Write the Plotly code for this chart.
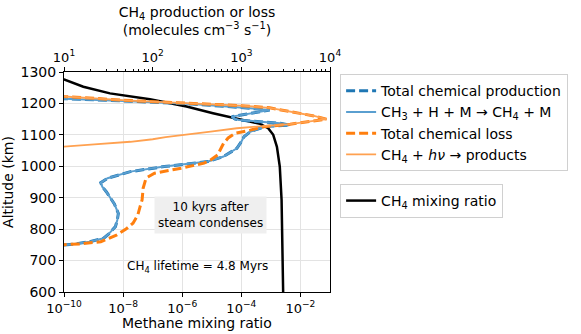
import plotly.graph_objects as go

# production / loss profiles (molecules cm^-3 s^-1) vs altitude (km)
prod_alt = [1225, 1215, 1207, 1198, 1188, 1182, 1179, 1158, 1150, 1147, 1137, 1131, 1127, 1118,
            1110, 1094, 1078, 1057, 1031, 1015, 999, 983, 962, 948, 935, 919, 903, 880, 850,
            830, 808, 785, 771, 760, 752, 745]
prod_val = [6.3, 10, 56, 280, 890, 1480, 2090, 780, 850, 950, 2750, 3550, 1900, 1510,
            1260, 1070, 1000, 890, 630, 420, 135, 56, 31, 26, 27, 30, 33, 37, 41,
            40, 38, 32, 28, 19.5, 12.6, 6.3]

loss_alt = [1228, 1222, 1209, 1201, 1193, 1186, 1169, 1160, 1150, 1142, 1134, 1126, 1115, 1105,
            1090, 1073, 1050, 1036, 1020, 1010, 994, 978, 965, 956, 930, 893, 871, 845, 819,
            800, 781, 760, 753, 750, 748]
loss_val = [6.3, 10, 56, 280, 1000, 2090, 4570, 6610, 9120, 5620, 3550, 1780, 1260, 850,
            710, 630, 575, 540, 450, 380, 210, 105, 87, 83, 78, 76, 72, 68, 60,
            50, 39, 26, 15, 10, 6.3]

photo_alt = [1228, 1222, 1209, 1201, 1193, 1186, 1169, 1160, 1150, 1142, 1134, 1128, 1121, 1110,
             1102, 1093, 1086, 1078, 1070, 1063, 1058]
photo_val = [6.3, 10, 56, 280, 1000, 2090, 4570, 6610, 9120, 6000, 3550, 1780, 890, 450,
             250, 140, 100, 56, 22, 10, 6.3]

# methane mixing ratio profile
mix_alt = [1290, 1276, 1253, 1232, 1213, 1190, 1169, 1156, 1144, 1135, 1121, 1100, 1062, 999,
           893, 750, 606, 600]
mix_val = [3.2e-11, 1e-10, 4.5e-10, 3.6e-9, 8.1e-8, 1.4e-6, 1.1e-5, 4.2e-5, 1.5e-4, 4.3e-4,
           8.1e-4, 1.2e-3, 1.6e-3, 2.0e-3, 2.3e-3, 2.5e-3, 2.6e-3, 2.6e-3]

bottom_ticks = [1e-10, 1e-8, 1e-6, 1e-4, 1e-2]
bottom_labels = ["10<sup>\u221210</sup>", "10<sup>\u22128</sup>", "10<sup>\u22126</sup>",
                 "10<sup>\u22124</sup>", "10<sup>\u22122</sup>"]
top_ticks = [10, 100, 1000, 10000]
top_labels = ["10<sup>1</sup>", "10<sup>2</sup>", "10<sup>3</sup>", "10<sup>4</sup>"]
alt_ticks = [600, 700, 800, 900, 1000, 1100, 1200, 1300]

FONT = "DejaVu Sans"
BLUE = "#1f77b4"
ORANGE = "#ff7f0e"

fig = go.Figure()

fig.add_trace(go.Scatter(x=mix_val, y=mix_alt, mode="lines", xaxis="x", yaxis="y",
                         line=dict(color="black", width=2.5),
                         name="CH<sub>4</sub> mixing ratio", legend="legend2"))

fig.add_trace(go.Scatter(x=prod_val, y=prod_alt, mode="lines", xaxis="x2", yaxis="y",
                         line=dict(color=BLUE, width=3, dash="9px,4px"),
                         name="Total chemical production"))
fig.add_trace(go.Scatter(x=prod_val, y=prod_alt, mode="lines", xaxis="x2", yaxis="y",
                         line=dict(color="#5a9fd0", width=2),
                         name="CH<sub>3</sub> + H + M \u2192 CH<sub>4</sub> + M"))
fig.add_trace(go.Scatter(x=loss_val, y=loss_alt, mode="lines", xaxis="x2", yaxis="y",
                         line=dict(color=ORANGE, width=3, dash="9px,4px"),
                         name="Total chemical loss"))
fig.add_trace(go.Scatter(x=photo_val, y=photo_alt, mode="lines", xaxis="x2", yaxis="y",
                         line=dict(color="#ffa150", width=1.8),
                         name="CH<sub>4</sub> + <i>h\u03bd</i> \u2192 products"))

fig.add_annotation(x=0.549, y=0.35, xref="paper", yref="paper",
                   text="10 kyrs after<br>steam condenses", showarrow=False,
                   bgcolor="#efefef", borderpad=3,
                   font=dict(family=FONT, size=12, color="black"))
fig.add_annotation(x=0.5, y=0.068, xref="paper", yref="paper",
                   text="CH<sub>4</sub> lifetime = 4.8 Myrs", showarrow=False,
                   font=dict(family=FONT, size=12, color="black"))
# bottom axis title (placed by hand, plotly puts it too low under superscript labels)
fig.add_annotation(x=0.5, y=-0.141, xref="paper", yref="paper", yanchor="middle",
                   text="Methane mixing ratio", showarrow=False,
                   font=dict(family=FONT, size=14, color="black"))

fig.update_layout(
    width=581, height=334,
    margin=dict(l=64, r=251, t=72, b=42),
    plot_bgcolor="white", paper_bgcolor="white",
    font=dict(family=FONT, size=14, color="black"),
    xaxis=dict(type="log", range=[-10, -1], tickmode="array", tickvals=bottom_ticks,
               ticktext=bottom_labels, showline=True, linecolor="black", linewidth=1,
               ticks="outside", ticklen=4, tickcolor="black", showgrid=True,
               gridcolor="#e3e3e3", zeroline=False, automargin=False,
               tickfont=dict(size=13)),
    xaxis2=dict(type="log", range=[1, 4], overlaying="x", side="top", anchor="y",
                tickmode="array", tickvals=top_ticks, ticktext=top_labels,
                showline=True, linecolor="black", linewidth=1,
                ticks="outside", ticklen=4, tickcolor="black", showgrid=False,
                minor=dict(ticks="outside", ticklen=2, tickcolor="black", dtick="D1", showgrid=False),
                zeroline=False, automargin=False, tickfont=dict(size=13),
                title=dict(text="CH<sub>4</sub> production or loss<br>(molecules cm<sup>\u22123</sup> s<sup>\u22121</sup>)",
                           font=dict(size=14), standoff=9)),
    yaxis=dict(range=[600, 1300], tickvals=alt_ticks, showline=True, mirror=True,
               linecolor="black", linewidth=1, ticks="outside", ticklen=4, tickcolor="black",
               showgrid=True, gridcolor="#e3e3e3", zeroline=False, automargin=False,
               tickfont=dict(size=14),
               title=dict(text="Altitude (km)", font=dict(size=14), standoff=6)),
    legend=dict(x=1.038, y=0.99, xanchor="left", yanchor="top", bgcolor="white",
                bordercolor="#d0d0d0", borderwidth=1, font=dict(size=14), itemwidth=30,
                tracegroupgap=0),
    legend2=dict(x=1.038, y=0.491, xanchor="left", yanchor="top", bgcolor="white",
                 bordercolor="#d0d0d0", borderwidth=1, font=dict(size=14), itemwidth=30),
)

# drop the browser's default 8px body margin so the figure fills the window
fig.write_html("out.html", config={"displayModeBar": False},
               post_script="document.body.style.margin = '0';")
